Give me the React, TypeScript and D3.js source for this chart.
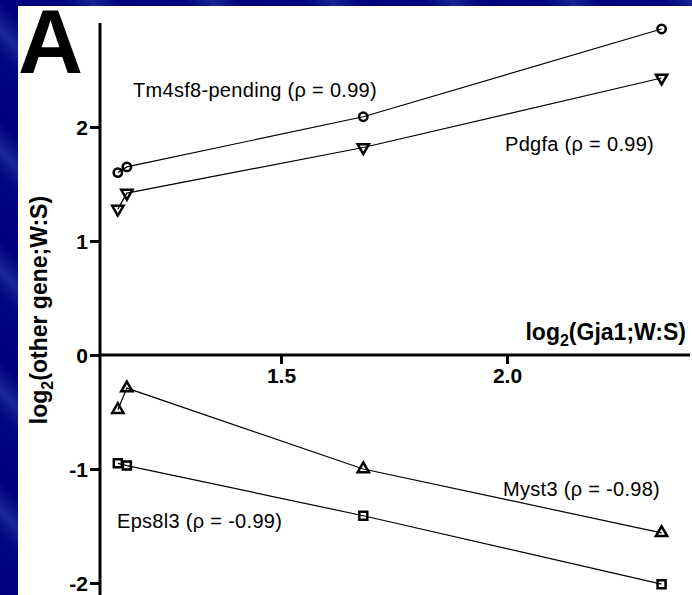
import React, { useRef, useEffect } from 'react';
import * as d3 from 'd3';

// log2(Gja1;W:S) for the four samples
const gja1 = [1.139, 1.159, 1.682, 2.342];

// log2(other gene;W:S)
const tm4sf8 = [1.60, 1.65, 2.09, 2.86];
const pdgfa = [1.28, 1.42, 1.82, 2.43];
const myst3 = [-0.48, -0.29, -1.0, -1.56];
const eps8l3 = [-0.95, -0.97, -1.41, -2.01];

const yTicks = [-2, -1, 0, 1, 2];
const xTicks = [1.5, 2.0];

const FONT = "'Liberation Sans', Arial, Helvetica, sans-serif";

const App = () => {
    const svgRef = useRef<SVGSVGElement>(null);

    useEffect(() => {
        const svg = d3.select(svgRef.current);
        svg.selectAll("*").remove();

        const width = 692;
        const height = 595;

        // slide background
        const defs = svg.append("defs");
        const grad = defs.append("linearGradient")
            .attr("id", "bg")
            .attr("gradientUnits", "userSpaceOnUse")
            .attr("x1", 0).attr("y1", 0)
            .attr("x2", 60).attr("y2", -60)
            .attr("spreadMethod", "repeat");
        grad.append("stop").attr("offset", "0%").attr("stop-color", "#00007c");
        grad.append("stop").attr("offset", "55%").attr("stop-color", "#00067f");
        grad.append("stop").attr("offset", "75%").attr("stop-color", "#1a2596");
        grad.append("stop").attr("offset", "100%").attr("stop-color", "#00007c");

        svg.append("rect")
            .attr("width", width).attr("height", height)
            .attr("fill", "url(#bg)");
        svg.append("rect")
            .attr("x", 18).attr("y", 6)
            .attr("width", width - 18).attr("height", height - 6)
            .attr("fill", "white");

        const x = d3.scaleLinear().domain([1.5, 2.0]).range([281, 507]);
        const y = d3.scaleLinear().domain([2, -2]).range([127, 583]);

        const x0 = 100; // y axis position
        const g = svg.append("g");

        // y axis
        const yAxis = g.append("g")
            .attr("transform", `translate(${x0},0)`)
            .call(d3.axisLeft(y).tickValues(yTicks).tickSize(10).tickPadding(2).tickFormat(d => String(d)));
        yAxis.select(".domain").remove();
        yAxis.selectAll("line").attr("stroke", "black").attr("stroke-width", 3);
        yAxis.selectAll("text")
            .attr("font-family", FONT).attr("font-size", 21).attr("font-weight", "bold")
            .attr("fill", "black").attr("dy", "0.36em");
        g.append("line")
            .attr("x1", x0).attr("x2", x0)
            .attr("y1", 23).attr("y2", height)
            .attr("stroke", "black").attr("stroke-width", 3);

        // x axis at y = 0
        const xAxis = g.append("g")
            .attr("transform", `translate(0,${y(0)})`)
            .call(d3.axisBottom(x).tickValues(xTicks).tickSize(9).tickPadding(4).tickFormat(d3.format(".1f")));
        xAxis.select(".domain").remove();
        xAxis.selectAll("line").attr("stroke", "black").attr("stroke-width", 3);
        xAxis.selectAll("text")
            .attr("font-family", FONT).attr("font-size", 21).attr("font-weight", "bold")
            .attr("fill", "black");
        g.append("line")
            .attr("x1", x0).attr("x2", 690)
            .attr("y1", y(0)).attr("y2", y(0))
            .attr("stroke", "black").attr("stroke-width", 3);

        // axis titles
        const xt = g.append("text")
            .attr("x", 686).attr("y", 340)
            .attr("text-anchor", "end")
            .attr("font-family", FONT).attr("font-size", 23).attr("font-weight", "bold");
        xt.append("tspan").text("log");
        xt.append("tspan").attr("font-size", 16).attr("dy", 6).text("2");
        xt.append("tspan").attr("dy", -6).text("(Gja1;W:S)");

        const yt = g.append("text")
            .attr("transform", "translate(47,310) rotate(-90)")
            .attr("text-anchor", "middle")
            .attr("font-family", FONT).attr("font-size", 23).attr("font-weight", "bold");
        yt.append("tspan").text("log");
        yt.append("tspan").attr("font-size", 16).attr("dy", 6).text("2");
        yt.append("tspan").attr("dy", -6).text("(other gene;W:S)");

        // series
        const series = [
            { name: "Tm4sf8-pending", values: tm4sf8, symbol: d3.symbolCircle, size: 55, rot: 0 },
            { name: "Pdgfa", values: pdgfa, symbol: d3.symbolTriangle, size: 55, rot: 180 },
            { name: "Myst3", values: myst3, symbol: d3.symbolTriangle, size: 55, rot: 0 },
            { name: "Eps8l3", values: eps8l3, symbol: d3.symbolSquare, size: 64, rot: 0 },
        ];

        const line = d3.line<number>()
            .x((d, i) => x(gja1[i]))
            .y(d => y(d));

        series.forEach(s => {
            g.append("path")
                .attr("d", line(s.values))
                .attr("fill", "none")
                .attr("stroke", "black")
                .attr("stroke-width", 1.2);

            g.selectAll(null)
                .data(s.values)
                .join("path")
                .attr("d", d3.symbol().type(s.symbol).size(s.size))
                .attr("transform", (d, i) => `translate(${x(gja1[i])},${y(d)}) rotate(${s.rot})`)
                .attr("fill", "none")
                .attr("stroke", "black")
                .attr("stroke-width", 2.5);
        });

        // correlation labels
        const labels = [
            { text: "Tm4sf8-pending (\u03c1 = 0.99)", x: 133, y: 97 },
            { text: "Pdgfa (\u03c1 = 0.99)", x: 505, y: 151 },
            { text: "Myst3 (\u03c1 = -0.98)", x: 503, y: 496 },
            { text: "Eps8l3 (\u03c1 = -0.99)", x: 117, y: 528 },
        ];
        g.selectAll(".lab")
            .data(labels)
            .join("text")
            .attr("class", "lab")
            .attr("x", d => d.x).attr("y", d => d.y)
            .attr("font-family", FONT).attr("font-size", 20)
            .attr("letter-spacing", 0.3)
            .attr("fill", "black")
            .text(d => d.text);

        // panel letter
        svg.append("text")
            .attr("x", 18).attr("y", 73)
            .attr("font-family", FONT).attr("font-size", 90).attr("font-weight", "bold")
            .attr("fill", "black")
            .text("A");
    }, []);

    return (
        <svg ref={svgRef} width={692} height={595}
            style={{ position: 'absolute', left: 0, top: 0, display: 'block' }} />
    );
};

export default App;
